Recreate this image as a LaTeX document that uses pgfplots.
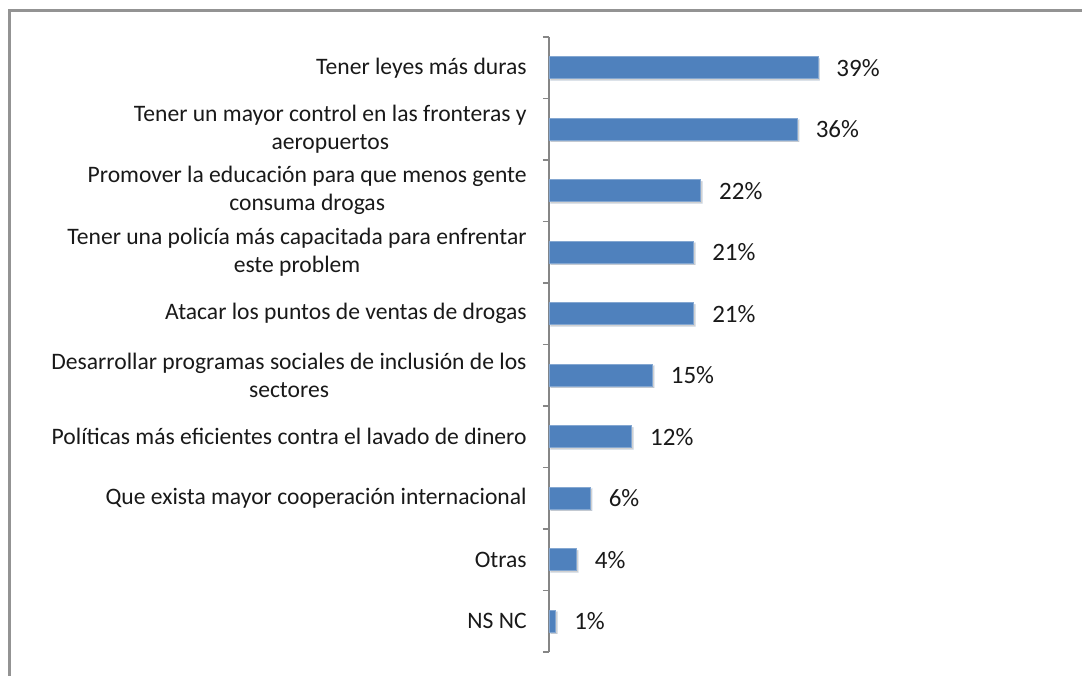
\documentclass[border=0pt]{standalone}
\usepackage{pgfplots}
\pgfplotsset{compat=1.18}
\usepackage{fontspec}
\setmainfont{Carlito}
\usetikzlibrary{shadows}
\definecolor{barblue}{HTML}{4F81BD}
\definecolor{axisgray}{HTML}{868686}

\begin{document}
\begin{tikzpicture}
% 1 px of the reference = 0.5pt
\useasboundingbox (0,0) rectangle (541pt,-337.5pt);
\clip (0,0) rectangle (541pt,-337.5pt);
\draw[color=gray!85, line width=1.2pt] (4.75pt,-400pt) -- (4.75pt,-5.25pt) -- (541pt,-5.25pt);
\begin{axis}[
    at={(274.5pt,-326pt)}, anchor=south west,
    scale only axis,
    width=155.25pt, height=307.5pt,
    xbar, bar width=11pt,
    xmin=0, xmax=45,
    ymin=-0.5, ymax=9.5, y dir=reverse,
    axis x line=none, axis y line*=left,
    axis line style={axisgray, line width=0.8pt},
    ytick={0,...,9},
    yticklabels={
        {Tener leyes más duras},
        {Tener un mayor control en las fronteras y\\aeropuertos},
        {Promover la educación para que menos gente\\consuma drogas},
        {Tener una policía más capacitada para enfrentar\\este problem},
        {Atacar los puntos de ventas de drogas},
        {Desarrollar programas sociales de inclusión de los\\sectores},
        {Políticas más eficientes contra el lavado de dinero},
        {Que exista mayor cooperación internacional},
        {Otras},
        {NS NC}
    },
    major tick length=0pt,
    minor ytick={-0.5,0.5,...,9.5},
    minor tick length=3pt,
    tick align=outside,
    ytick pos=left,
    minor tick style={axisgray, line width=0.8pt},
    /pgf/number format/assume math mode=true,
    yticklabel style={font=\fontsize{11.8}{14}\selectfont, align=center,
        anchor=east, inner sep=0pt, xshift=-11pt, text=black!90},
    nodes near coords={\pgfmathprintnumber{\pgfplotspointmeta}\%},
    nodes near coords style={font=\fontsize{12.5}{15}\selectfont, anchor=west,
        inner sep=0pt, xshift=9pt, text=black!90},
]
\addplot[fill=barblue, draw=barblue!70!white, line width=0.4pt,
    drop shadow={shadow xshift=0.8pt, shadow yshift=-0.8pt, opacity=0.18, fill=black}]
coordinates {
    (39,0)
    (36,1)
    (22,2)
    (21,3)
    (21,4)
    (15,5)
    (12,6)
    (6,7)
    (4,8)
    (1,9)
};
\end{axis}
\end{tikzpicture}
\end{document}
